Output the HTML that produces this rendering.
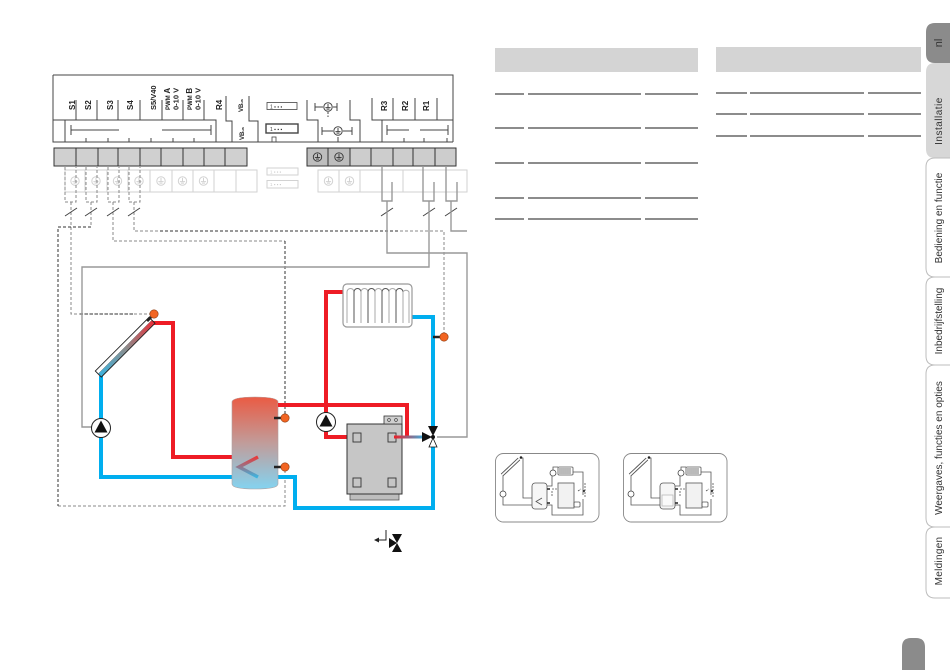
<!DOCTYPE html>
<html><head><meta charset="utf-8"><style>
html,body{margin:0;padding:0;background:#fff;width:950px;height:670px;overflow:hidden}
svg{display:block}
</style></head><body>
<svg width="950" height="670" viewBox="0 0 950 670" xmlns="http://www.w3.org/2000/svg" font-family="Liberation Sans, Arial, sans-serif">
<defs>
<linearGradient id="tankG" x1="0" y1="0" x2="0" y2="1">
 <stop offset="0" stop-color="#ea5b44"/>
 <stop offset="0.5" stop-color="#c19c9a"/>
 <stop offset="1" stop-color="#84d3f0"/>
</linearGradient>
<linearGradient id="colG" x1="0" y1="0" x2="1" y2="0">
 <stop offset="0" stop-color="#3cb4e0"/>
 <stop offset="0.5" stop-color="#8c8c8c"/>
 <stop offset="1" stop-color="#e8303a"/>
</linearGradient>
<linearGradient id="coilG" gradientUnits="userSpaceOnUse" x1="0" y1="457" x2="0" y2="477">
 <stop offset="0" stop-color="#e83a3a"/>
 <stop offset="1" stop-color="#3cb4e0"/>
</linearGradient>
<linearGradient id="arrG" gradientUnits="userSpaceOnUse" x1="394" y1="0" x2="425" y2="0">
 <stop offset="0" stop-color="#ee1c25"/>
 <stop offset="1" stop-color="#33b5e8"/>
</linearGradient>
<g id="ea"><circle r="4.2" fill="none"/><path d="M0,-3.1V0.6M-2.6,0.6H2.6M-1.5,2.1H1.5" fill="none"/></g>
</defs>

<!-- ============ TERMINAL HEADER ============ -->
<g stroke="#444" stroke-width="1" fill="none">
 <path d="M53,75H453V142M53,75V142H453"/>
 <path d="M53,120H216V142"/>
 <path d="M76,100V120M97,100V120M118,100V120M140,100V120M162,100V120M183,100V120M204,100V120"/>
 <path d="M65,120V142"/>
 <path d="M71,125V135M71,130H119M162,130H211M211,125V135"/>
 <path d="M86,138V142M108,138V142M129,138V142M151,138V142M173,138V142M194,138V142"/>
 <path d="M226,96V121H232V142"/>
 <path d="M249,96V121H258V142"/>
 <path d="M307,100V120H318V142M350,100V120H360V142"/>
 <path d="M372,98V120H453M393,98V120M415,98V120M437,98V120M382,120V142"/>
 <path d="M387,125V135M387,130H409M420,130H448M448,125V135"/>
 <path d="M404,138V142M424,138V142M447,138V142"/>
 <path d="M315,103V111M315,107H323M333,107H337M337,103V111"/>
 <circle cx="328" cy="107" r="4.2"/>
 <path d="M328,104V107.6M325.4,107.6H330.6M326.5,109.1H329.5"/>
 <path d="M328,112V117" stroke-dasharray="2,1.5"/>
 <path d="M322,127V135M322,131H333M343,131H352M352,127V135"/>
 <circle cx="338" cy="131" r="4.2"/>
 <path d="M338,128V131.6M335.4,131.6H340.6M336.5,133.1H339.5"/>
 <path d="M338,137V142"/>
 <rect x="267" y="102.5" width="30" height="7" stroke-width="0.8"/>
 <rect x="266" y="124" width="32" height="9" stroke-width="1.4"/>
 <rect x="272" y="137" width="4" height="5" stroke-width="0.8"/>
</g>
<text x="270" y="108.3" font-size="5" fill="#333">1 ▪ ▪ ▪</text>
<text x="270" y="130.8" font-size="5" fill="#333">1 ▪ ▪ ▪</text>

<g font-weight="bold" font-size="8" fill="#222">
 <text transform="translate(75,110) rotate(-90)">S1</text>
 <text transform="translate(91,110) rotate(-90)">S2</text>
 <text transform="translate(113,110) rotate(-90)">S3</text>
 <text transform="translate(133,110) rotate(-90)">S4</text>
 <text transform="translate(156,110) rotate(-90)" font-size="7.5">S5/V40</text>
 <text transform="translate(170,110) rotate(-90)" font-size="6">PWM <tspan font-size="8">A</tspan></text>
 <text transform="translate(178.5,110) rotate(-90)" font-size="7.5">0-10 V</text>
 <text transform="translate(192,110) rotate(-90)" font-size="6">PWM <tspan font-size="8">B</tspan></text>
 <text transform="translate(200.5,110) rotate(-90)" font-size="7.5">0-10 V</text>
 <text transform="translate(222,110) rotate(-90)">R4</text>
 <text transform="translate(243,112) rotate(-90)" font-size="6">VB<tspan font-size="4">us</tspan></text>
 <text transform="translate(244,140) rotate(-90)" font-size="6">VB<tspan font-size="4">us</tspan></text>
 <text transform="translate(387,111) rotate(-90)">R3</text>
 <text transform="translate(408,111) rotate(-90)">R2</text>
 <text transform="translate(429,111) rotate(-90)">R1</text>
</g>

<!-- grey terminal blocks -->
<g stroke="#333" stroke-width="1">
 <rect x="54" y="148" width="193" height="18" fill="#d0d0d0"/>
 <path d="M76,148V166M98,148V166M118,148V166M140,148V166M161,148V166M183,148V166M204,148V166M225,148V166"/>
 <rect x="307" y="148" width="43" height="18" fill="#bdbdbd"/>
 <rect x="350" y="148" width="106" height="18" fill="#cdcdcd"/>
 <path d="M328,148V166M371,148V166M393,148V166M413,148V166M435,148V166"/>
</g>
<g stroke="#333" stroke-width="0.9"><use href="#ea" x="317.5" y="157"/><use href="#ea" x="339" y="157"/></g>

<!-- ghost rows -->
<g stroke="#d2d2d2" stroke-width="1" fill="none">
 <rect x="65" y="170" width="192" height="22"/>
 <path d="M85,170V192M107,170V192M128,170V192M150,170V192M172,170V192M193,170V192M214,170V192M236,170V192"/>
 <rect x="318" y="170" width="149" height="22"/>
 <path d="M339,170V192M360,170V192M403,170V192M423,170V192"/>
 <rect x="267" y="168" width="31" height="7"/>
 <rect x="267" y="180.5" width="31" height="7.5"/>
 <use href="#ea" x="75" y="181"/><use href="#ea" x="96" y="181"/><use href="#ea" x="117.5" y="181"/>
 <use href="#ea" x="139" y="181"/><use href="#ea" x="161" y="181"/><use href="#ea" x="182.5" y="181"/>
 <use href="#ea" x="203.5" y="181"/>
 <use href="#ea" x="328.5" y="181"/><use href="#ea" x="349.5" y="181"/>
</g>
<text x="270" y="173.5" font-size="4.5" fill="#ccc">1 ▪ ▪ ▪</text>
<text x="270" y="186" font-size="4.5" fill="#ccc">1 ▪ ▪ ▪</text>

<!-- sensor dashed wires -->
<g fill="none" stroke-dasharray="3,2" stroke-width="1">
 <g stroke="#888">
  <path d="M65,167V202H76V167"/>
  <path d="M86,167V202H97V167"/>
  <path d="M108,167V202H119V167"/>
  <path d="M129,167V202H140V167"/>
  <path d="M71,202V314H150"/>
  <path d="M91,202V227"/>
  <path d="M113,202V241H285"/>
  <path d="M134,202V231H444V333"/>
  <path d="M58,506H285V471"/>
 </g>
 <g stroke="#333">
  <path d="M91,227H58V506"/>
  <path d="M285,241V414"/>
  <path d="M160,231H400"/>
  <path d="M80,314H135"/>
 </g>
</g>
<g stroke="#444" stroke-width="1">
 <path d="M65,216L77,208M85,216L97,208M107,216L119,208M128,216L140,208"/>
 <path d="M381,216L393,208M423,216L435,208M445,216L457,208"/>
</g>

<!-- relay wires -->
<g fill="none" stroke="#999" stroke-width="1.4">
 <path d="M382,166V201H392V182"/>
 <path d="M423,166V201H434V182"/>
 <path d="M446,166V201H457V182"/>
 <path d="M387,201V253H467V437H437"/>
 <path d="M429,201V267H82V427H92"/>
 <path d="M451,201V231H467"/>
</g>

<!-- ============ HYDRAULICS ============ -->
<g fill="none" stroke-width="4" stroke-linejoin="miter">
 <path d="M152,323H173V457H258" stroke="#ee1c25"/>
 <path d="M101,376V477H258" stroke="#00aeef"/>
 <path d="M343,292H326V437H358" stroke="#ee1c25"/>
 <path d="M412,317H433V427" stroke="#00aeef"/>
 <path d="M433,446V508H295V477H277" stroke="#00aeef"/>
</g>

<path d="M232,402Q232,397 255,397Q278,397 278,402V484Q278,489 255,489Q232,489 232,484Z" fill="url(#tankG)" stroke="#b0a0a0" stroke-width="0.6"/>
<path d="M278,405H407V437" fill="none" stroke="#ee1c25" stroke-width="4"/>
<polyline points="258,457 239,467 258,477" fill="none" stroke="url(#coilG)" stroke-width="3.5"/>
<g stroke="#222" stroke-width="2.5"><path d="M274,418H282M274,467H282"/></g>
<circle cx="285" cy="418" r="4.2" fill="#f26522" stroke="#8a3a10" stroke-width="0.6"/>
<circle cx="285" cy="467" r="4.2" fill="#f26522" stroke="#8a3a10" stroke-width="0.6"/>

<!-- collector -->
<g transform="rotate(-45 125 347)">
 <rect x="87" y="343" width="76" height="4" fill="#fff"/>
 <rect x="87" y="347" width="76" height="4.5" fill="url(#colG)"/>
 <rect x="87" y="343" width="76" height="8.5" fill="none" stroke="#222" stroke-width="0.9"/>
 <path d="M87,347H163" stroke="#666" stroke-width="0.4"/>
</g>
<path d="M147,321L151,317" stroke="#222" stroke-width="3"/>
<circle cx="154" cy="314" r="4.2" fill="#f26522" stroke="#8a3a10" stroke-width="0.6"/>

<circle cx="101" cy="428" r="9.5" fill="#fff" stroke="#222" stroke-width="1"/>
<polygon points="101,420.5 94.5,432.5 107.5,432.5" fill="#111"/>
<circle cx="326" cy="422" r="9.5" fill="#fff" stroke="#222" stroke-width="1"/>
<polygon points="326,414.5 319.5,426.5 332.5,426.5" fill="#111"/>

<!-- radiator -->
<rect x="343" y="284" width="69" height="43" rx="4" fill="#fff" stroke="#999" stroke-width="1.2"/>
<g fill="none" stroke-width="1">
 <path d="M347,323V292A3.5,3.5 0 0 1 354,292V323" stroke="#aaa"/>
 <path d="M354,323V292A3.5,3.5 0 0 1 361,292V323" stroke="#555"/>
 <path d="M361,323V292A3.5,3.5 0 0 1 368,292V323" stroke="#aaa"/>
 <path d="M368,323V292A3.5,3.5 0 0 1 375,292V323" stroke="#555"/>
 <path d="M375,323V292A3.5,3.5 0 0 1 382,292V323" stroke="#aaa"/>
 <path d="M382,323V292A3.5,3.5 0 0 1 389,292V323" stroke="#555"/>
 <path d="M389,323V292A3.5,3.5 0 0 1 396,292V323" stroke="#aaa"/>
 <path d="M396,323V292A3.5,3.5 0 0 1 403,292V323" stroke="#555"/>
 <path d="M403,323V292A3.5,3.5 0 0 1 409,292V323" stroke="#aaa"/>
</g>
<path d="M433,337H440" stroke="#222" stroke-width="2.5"/>
<circle cx="444" cy="337" r="4.2" fill="#f26522" stroke="#8a3a10" stroke-width="0.6"/>

<!-- boiler -->
<rect x="350" y="494" width="49" height="6" fill="#bdbdbd" stroke="#555" stroke-width="0.8"/>
<rect x="347" y="424" width="55" height="70" fill="#c6c6c6" stroke="#333" stroke-width="1"/>
<rect x="384" y="416" width="18" height="8" fill="#d0d0d0" stroke="#333" stroke-width="0.8"/>
<circle cx="389" cy="420" r="1.4" fill="none" stroke="#333" stroke-width="0.6"/>
<circle cx="396" cy="420" r="1.4" fill="none" stroke="#333" stroke-width="0.6"/>
<g fill="none" stroke="#333" stroke-width="0.9">
 <rect x="353" y="433" width="8" height="9"/>
 <rect x="388" y="433" width="8" height="9"/>
 <rect x="353" y="478" width="8" height="9"/>
 <rect x="388" y="478" width="8" height="9"/>
</g>
<path d="M394,437H423" stroke="url(#arrG)" stroke-width="3"/>

<polygon points="428,426 438,426 433,436" fill="#111"/>
<polygon points="422,432 422,442 432,437" fill="#111"/>
<polygon points="429,447 437,447 433,438" fill="#fff" stroke="#111" stroke-width="0.8"/>
<circle cx="433" cy="437" r="2" fill="#111"/>

<!-- small legend valve icon -->
<g>
 <path d="M386,530V540H378" fill="none" stroke="#222" stroke-width="1"/>
 <polygon points="374,540 379,537.5 379,542.5" fill="#222"/>
 <polygon points="392,534 402,534 397,543" fill="#111"/>
 <polygon points="392,552 402,552 397,543" fill="#111"/>
 <polygon points="389,538 389,548 397,543" fill="#111"/>
</g>

<!-- ============ TABLES ============ -->
<rect x="495" y="48" width="203" height="24" fill="#d4d4d4"/>
<rect x="716" y="47" width="205" height="25" fill="#d4d4d4"/>
<g stroke="#666" stroke-width="1.5">
 <path d="M495,94H524M528,94H641M645,94H698"/>
 <path d="M495,128H524M528,128H641M645,128H698"/>
 <path d="M495,163H524M528,163H641M645,163H698"/>
 <path d="M495,198H524M528,198H641M645,198H698"/>
 <path d="M495,219H524M528,219H641M645,219H698"/>
 <path d="M716,93H747M750,93H864M868,93H921"/>
 <path d="M716,114H747M750,114H864M868,114H921"/>
 <path d="M716,136H747M750,136H864M868,136H921"/>
</g>

<!-- ============ THUMBNAILS ============ -->
<g transform="translate(495,453)">
 <rect x="0.5" y="0.5" width="103.5" height="68.5" rx="8" fill="#fff" stroke="#888" stroke-width="0.9"/>
 <g fill="none" stroke="#555" stroke-width="0.8">
  <path d="M25,5H28V45H40"/>
  <path d="M8,22V52H40"/>
  <rect x="37" y="30" width="15" height="26" rx="3" fill="#f6f6f6"/>
  <polyline points="47,45 41,48.5 47,52"/>
  <path d="M52,33H57V23M58,17V14H63"/>
  <rect x="63" y="14" width="15" height="8" rx="1" fill="#fff"/>
  <path d="M65,15V21M67,15V21M69,15V21M71,15V21M73,15V21M75,15V21"/>
  <path d="M78,19H88V42"/>
  <rect x="63" y="30" width="16" height="25" fill="#f2f2f2"/>
  <rect x="79" y="49" width="6" height="5" rx="1"/>
  <path d="M52,52H57V62H88V46"/>
  <path d="M57,36H63M57,38V44" stroke-dasharray="2,1"/>
  <path d="M83,38L86,36M90,30V45" stroke-dasharray="2,1"/>
 </g>
 <path d="M7,22L24,6" stroke="#555" stroke-width="3.5"/>
 <path d="M7,22L24,6" stroke="#fff" stroke-width="1.6"/>
 <circle cx="26" cy="4.5" r="1.3" fill="#222"/>
 <circle cx="8" cy="41" r="3" fill="#fff" stroke="#444" stroke-width="0.8"/>
 <circle cx="58" cy="20" r="3" fill="#fff" stroke="#444" stroke-width="0.8"/>
 <path d="M52,36H55M52,50H55" stroke="#222" stroke-width="1.5"/>
 <circle cx="89" cy="38" r="1" fill="#222"/>
</g>
<g transform="translate(623,453)">
 <rect x="0.5" y="0.5" width="103.5" height="68.5" rx="8" fill="#fff" stroke="#888" stroke-width="0.9"/>
 <g fill="none" stroke="#555" stroke-width="0.8">
  <path d="M25,5H28V45H40"/>
  <path d="M8,22V52H40"/>
  <rect x="37" y="30" width="15" height="26" rx="3" fill="#f6f6f6"/>
  <rect x="39" y="42" width="11" height="11" stroke="#bbb" fill="#fafafa"/>
  <path d="M52,33H57V23M58,17V14H63"/>
  <rect x="63" y="14" width="15" height="8" rx="1" fill="#fff"/>
  <path d="M65,15V21M67,15V21M69,15V21M71,15V21M73,15V21M75,15V21"/>
  <path d="M78,19H88V42"/>
  <rect x="63" y="30" width="16" height="25" fill="#f2f2f2"/>
  <rect x="79" y="49" width="6" height="5" rx="1"/>
  <path d="M52,52H57V62H88V46"/>
  <path d="M57,36H63M57,38V44" stroke-dasharray="2,1"/>
  <path d="M83,38L86,36M90,30V45" stroke-dasharray="2,1"/>
 </g>
 <path d="M7,22L24,6" stroke="#555" stroke-width="3.5"/>
 <path d="M7,22L24,6" stroke="#fff" stroke-width="1.6"/>
 <circle cx="26" cy="4.5" r="1.3" fill="#222"/>
 <circle cx="8" cy="41" r="3" fill="#fff" stroke="#444" stroke-width="0.8"/>
 <circle cx="58" cy="20" r="3" fill="#fff" stroke="#444" stroke-width="0.8"/>
 <path d="M52,36H55M52,50H55" stroke="#222" stroke-width="1.5"/>
 <circle cx="89" cy="38" r="1" fill="#222"/>
</g>

<!-- ============ SIDE TABS ============ -->
<path d="M950,23H935Q926,23 926,32V54Q926,63 935,63H950Z" fill="#8b8b8b"/>
<path d="M950,63H935Q926,63 926,72V149Q926,158 935,158H950Z" fill="#d7d7d7"/>
<g fill="#fff" stroke="#bdbdbd" stroke-width="1">
 <path d="M950,158H935Q926,158 926,167V268Q926,277 935,277H950"/>
 <path d="M950,277H935Q926,277 926,286V356Q926,365 935,365H950"/>
 <path d="M950,365H935Q926,365 926,374V518Q926,527 935,527H950"/>
 <path d="M950,527H935Q926,527 926,536V589Q926,598 935,598H950"/>
</g>
<g font-size="10" fill="#333" text-anchor="middle">
 <text transform="translate(942,43) rotate(-90)" font-size="11">nl</text>
 <text transform="translate(942,121) rotate(-90)" letter-spacing="0.5">Installatie</text>
 <text transform="translate(942,218) rotate(-90)">Bediening en functie</text>
 <text transform="translate(942,321) rotate(-90)">Inbedrijfstelling</text>
 <text transform="translate(942,448) rotate(-90)">Weergaves, functies en opties</text>
 <text transform="translate(942,561) rotate(-90)" letter-spacing="0.3">Meldingen</text>
</g>
<path d="M902,670V647Q902,638 911,638H916Q925,638 925,647V670Z" fill="#8b8b8b"/>
</svg>
</body></html>
